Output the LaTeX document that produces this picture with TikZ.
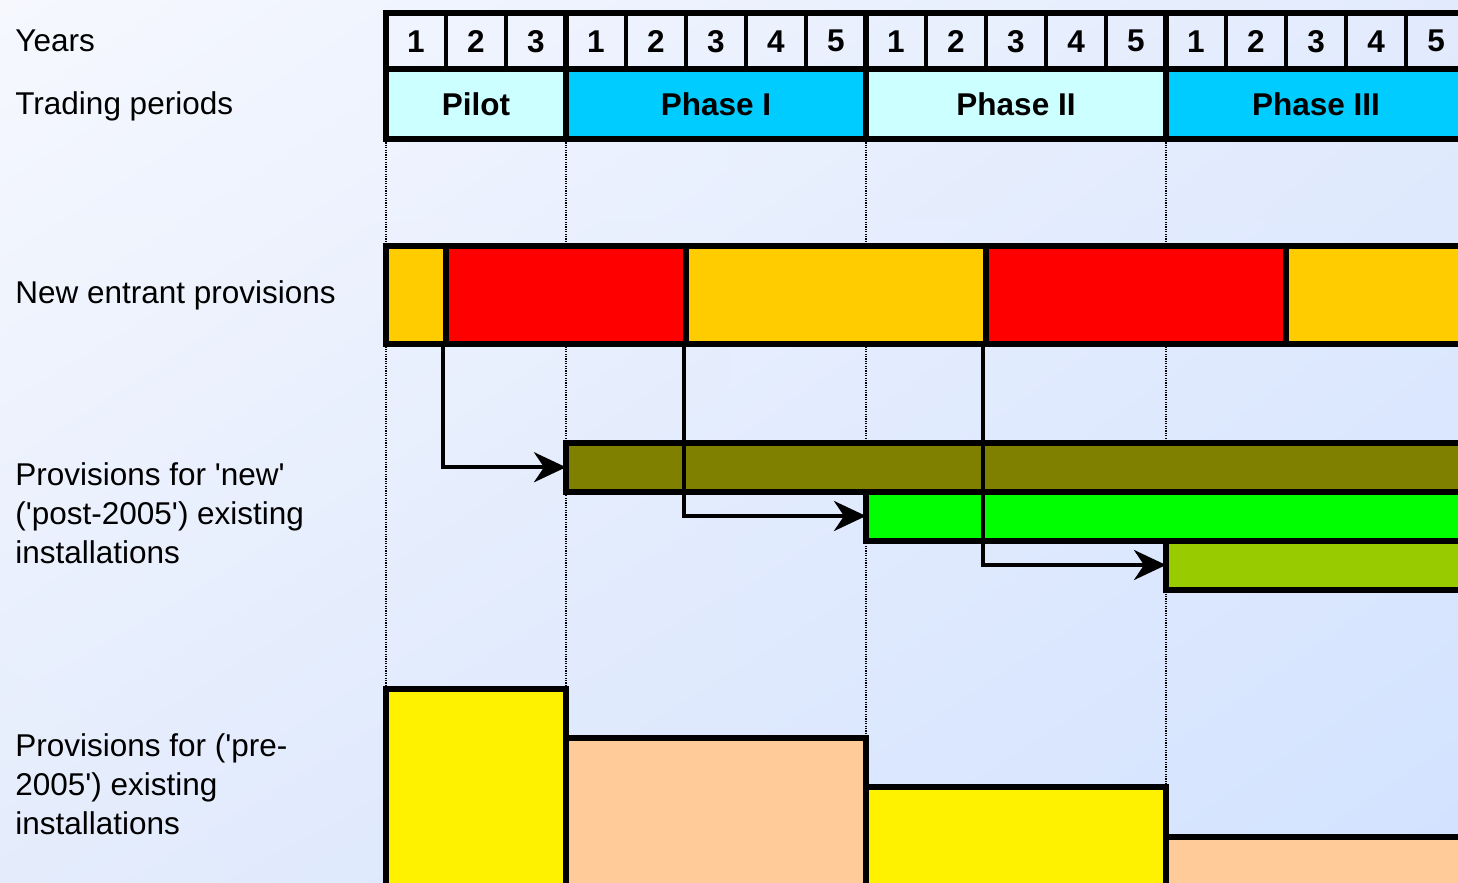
\documentclass[tikz,border=0pt]{standalone}
\usepackage{fontspec}
\setmainfont{Liberation Sans}[Ligatures=TeXOff]
\usetikzlibrary{arrows.meta,positioning,fit,shadings}

\definecolor{paleCyan}{HTML}{CCFFFF}
\definecolor{skyCyan}{HTML}{00CCFF}
\definecolor{amber}{HTML}{FFCC00}
\definecolor{oliveBar}{HTML}{808000}
\definecolor{limeBar}{HTML}{00FF00}
\definecolor{yellowGreen}{HTML}{99CC00}
\definecolor{peach}{HTML}{FFCC99}
\definecolor{bgTL}{HTML}{F6F8FE}
\definecolor{bgTR}{HTML}{E2EBFD}
\definecolor{bgBL}{HTML}{E4ECFC}
\definecolor{bgBR}{HTML}{D2E2FF}

\newcommand{\labelfont}{\fontsize{15.75}{19.5}\selectfont}

\tikzset{
  frame/.style={line width=3pt},
  bar/.style={draw, line width=3pt, inner sep=0pt, outer sep=0pt},
  yearcell/.style={draw, line width=1.6pt, inner sep=0pt, outer sep=0pt},
  phasecell/.style={inner sep=0pt, outer sep=0pt},
  headtext/.style={font=\labelfont\bfseries, inner sep=0pt},
  rowlabel/.style={anchor=base west, inner sep=0pt, align=left, font=\labelfont},
  guide/.style={line width=1.3pt, dash pattern=on 0.6pt off 0.6pt},
  arr/.style={line width=1.8pt, -{Stealth[length=16pt,width=15pt,inset=5pt]}}
}

\begin{document}
\begin{tikzpicture}[x=0.5pt,y=-0.5pt]
\useasboundingbox (0,0) rectangle (1458,883);
\clip (0,0) rectangle (1458,883);
\shade[upper left=bgTL, upper right=bgTR, lower left=bgBL, lower right=bgBR]
  (0,0) rectangle (1458,883);

% row titles (base = last line)
\node[rowlabel] (years) at (15,52) {Years};
\node[rowlabel] (periods) at (15,115) {Trading periods};
\node[rowlabel] (newent) at (15,303) {New entrant provisions};
\node[rowlabel] (postlbl) at (15,563) {Provisions for 'new'\\('post-2005') existing\\installations};
\node[rowlabel] (prelbl) at (15,834) {Provisions for ('pre-\\2005') existing\\installations};

% period guides
\foreach \x in {386,566,866,1166}
  \draw[guide] (\x,140) -- (\x,883);

% years and trading periods
\foreach \k/\n in {0/1,1/2,2/3,3/1,4/2,5/3,6/4,7/5,8/1,9/2,10/3,11/4,12/5,13/1,14/2,15/3,16/4,17/5}
  \node[yearcell, fit={({386+60*\k},13) ({446+60*\k},69.5)},
    label={[headtext]center:\n}] (yr\k) {};
\foreach \a/\b/\c/\t/\nm in {386/566/paleCyan/Pilot/pilot,566/866/skyCyan/Phase I/phaseA,
    866/1166/paleCyan/Phase II/phaseB,1166/1466/skyCyan/Phase III/phaseC}{
  \node[phasecell, fill=\c, fit={(\a,69.5) (\b,139.5)},
    label={[headtext]center:\t}] (\nm) {};
  \draw[frame] (\a,13) rectangle (\b,139.5);
}
\draw[frame] (386,69.5) -- (1466,69.5);

% new entrant provisions
\node[bar, fill=amber, fit={(386,246) (446,344)}] (ne1) {};
\node[bar, fill=red, fit={(446,246) (686,344)}] (ne2) {};
\node[bar, fill=amber, fit={(686,246) (986,344)}] (ne3) {};
\node[bar, fill=red, fit={(986,246) (1286,344)}] (ne4) {};
\node[bar, fill=amber, fit={(1286,246) (1466,344)}] (ne5) {};

% 'new' existing installations
\node[bar, fill=oliveBar, fit={(566,443) (1466,491.5)}] (post1) {};
\node[bar, fill=limeBar, fit={(866,491.5) (1466,540.5)}] (post2) {};
\node[bar, fill=yellowGreen, fit={(1166,540.5) (1466,589.5)}] (post3) {};

% pre-2005 existing installations
\node[bar, fill=yellow, fit={(386,689) (566,900)}] (pre1) {};
\node[bar, fill=peach, fit={(566,738) (866,900)}] (pre2) {};
\node[bar, fill=yellow, fit={(866,787) (1166,900)}] (pre3) {};
\node[bar, fill=peach, fit={(1166,837) (1466,900)}] (pre4) {};

% hand-over arrows
\draw[arr] ([xshift=-1.5pt]ne1.south east) |- (post1.west);
\draw[arr] ([xshift=-1pt]ne2.south east) |- (post2.west);
\draw[arr] ([xshift=-1.5pt]ne3.south east) |- (post3.west);
\end{tikzpicture}
\end{document}
